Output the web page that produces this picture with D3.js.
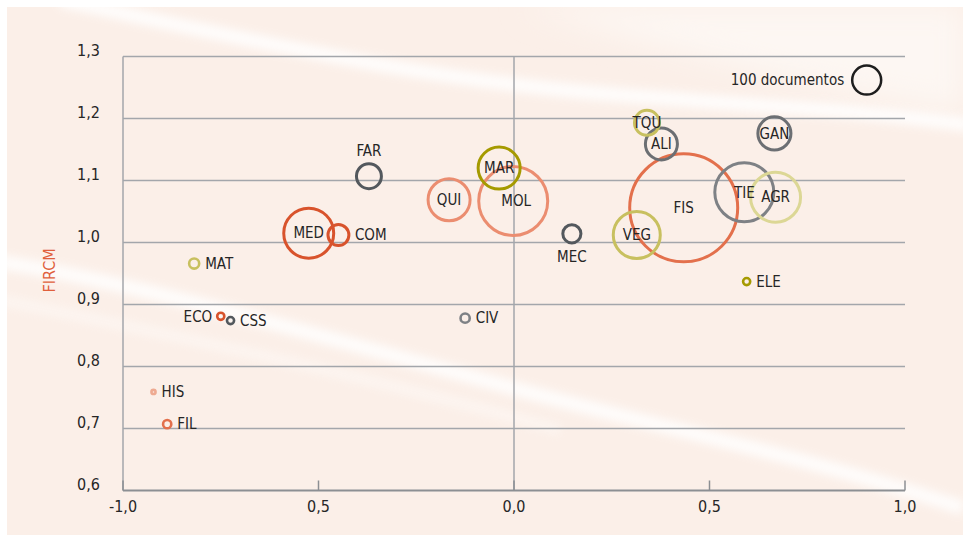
<!DOCTYPE html>
<meta charset="utf-8">
<style>
body { margin: 0; background: #fff; }
svg { display: block; font-family: "DejaVu Sans Condensed", "DejaVu Sans", sans-serif; }
.grid line { stroke: #a3a6ab; stroke-width: 1.5px; }
.lbl { font-size: 15px; fill: #262626; }
.tick { font-size: 16px; fill: #262626; }
</style>
<body>
<svg width="963" height="538"></svg>
<script src="https://cdn.jsdelivr.net/npm/d3@7"></script>
<script>

// data
var codes  = ["FIS","MOL","TIE","MED","AGR","VEG","MAR","QUI","GAN","ALI","FAR","TQU","COM","MEC","MAT","CIV","FIL","ELE","ECO","CSS","HIS"];
var xVals  = [0.434,-0.002,0.589,-0.525,0.669,0.314,-0.038,-0.166,0.666,0.377,-0.371,0.340,-0.449,0.148,-0.818,-0.125,-0.887,0.595,-0.750,-0.725,-0.922];
var yVals  = [1.056,1.067,1.081,1.015,1.073,1.012,1.120,1.069,1.176,1.159,1.107,1.193,1.012,1.014,0.966,0.878,0.707,0.937,0.881,0.874,0.759];
var docs   = [1387,566,414,297,297,263,210,210,130,122,74,74,52,39,12,10,8,6,6,6,2];
var groups = ["naranja","salmon","gris claro","rojo","crema","oliva claro","oliva","salmon","gris","gris","gris oscuro","oliva claro","rojo","gris oscuro","oliva claro","gris claro","naranja","oliva","rojo","gris oscuro","salmon claro"];
var labelPos = ["c","c","c","c","c","c","c","c","c","c","t","c","r","b","r","r","r","r","l","r","r"];

var groupNames  = ["gris oscuro","gris","gris claro","rojo","naranja","salmon","salmon claro","oliva","oliva claro","crema"];
var groupColors = ["#53585d","#6c6f73","#7e8185","#d8532c","#e3704c","#eb8d70","#eeaa91","#a59a00","#c8c05f","#dcd795"];

var yTicks = [0.6,0.7,0.8,0.9,1.0,1.1,1.2,1.3];
var xTicks = [-1,-0.5,0,0.5,1];
var xTickLabels = ["-1,0","0,5","0,0","0,5","1,0"];

var legendDocs = 100, legendText = "100 documentos", legendX = 0.902, legendY = 1.262;
var yTitle = "FIRCM";

var svg = d3.select("svg"),
    width = +svg.attr("width"),
    height = +svg.attr("height");

var x = d3.scaleLinear().domain([-1,1]).range([123,905]);
var y = d3.scaleLinear().domain([0.6,1.3]).range([490.5,56.5]);
var r = d3.scaleSqrt().domain([0,100]).range([0,14.5]);
var color = d3.scaleOrdinal().domain(groupNames).range(groupColors);

// background wash
var defs = svg.append("defs");
defs.append("filter").attr("id","blur").append("feGaussianBlur").attr("stdDeviation",5);
defs.append("filter").attr("id","blur2").append("feGaussianBlur").attr("stdDeviation",14);

svg.append("rect").attr("x",7).attr("y",7).attr("width",width-7).attr("height",height-10).attr("fill","#fbefe8");
var bg = svg.append("g").attr("clip-path","url(#clip)");
defs.append("clipPath").attr("id","clip").append("rect").attr("x",7).attr("y",7).attr("width",width-7).attr("height",height-10);
bg.append("path").attr("d","M520,7 C700,60 850,95 963,110 L963,7Z").attr("fill","#fdf7f3").attr("filter","url(#blur2)");
bg.append("path").attr("d","M60,0 C250,40 420,80 620,95 S850,110 970,125").attr("fill","none")
  .attr("stroke","#fff").attr("stroke-width",14).attr("opacity",0.85).attr("filter","url(#blur)");
bg.append("path").attr("d","M0,262 C150,285 350,345 520,390 S800,455 963,508").attr("fill","none")
  .attr("stroke","#fff").attr("stroke-width",14).attr("opacity",0.85).attr("filter","url(#blur)");
bg.append("path").attr("d","M0,300 C200,340 380,380 560,430").attr("fill","none")
  .attr("stroke","#fff").attr("stroke-width",10).attr("opacity",0.4).attr("filter","url(#blur)");

// grid
var grid = svg.append("g").attr("class","grid");
grid.selectAll(".h").data(yTicks.slice(1)).enter().append("line")
  .attr("x1",x(-1)).attr("x2",x(1)).attr("y1",d=>y(d)).attr("y2",d=>y(d));
grid.append("line").attr("x1",x(-1)).attr("x2",x(-1)).attr("y1",y(1.3)).attr("y2",y(0.6));
grid.append("line").attr("x1",x(0)).attr("x2",x(0)).attr("y1",y(1.3)).attr("y2",y(0.6));

// x axis, ticks pointing up
var xAxis = svg.append("g");
xAxis.append("line").attr("x1",x(-1)).attr("x2",x(1)).attr("y1",y(0.6)).attr("y2",y(0.6))
  .attr("stroke","#8c8f93").attr("stroke-width",2);
xAxis.selectAll(".tk").data(xTicks).enter().append("line")
  .attr("x1",d=>x(d)).attr("x2",d=>x(d)).attr("y1",y(0.6)).attr("y2",y(0.6)-10)
  .attr("stroke","#8c8f93").attr("stroke-width",1.5);
xAxis.selectAll("text").data(xTicks).enter().append("text")
  .attr("class","tick").attr("x",d=>x(d)).attr("y",y(0.6)+21)
  .attr("text-anchor","middle").text((d,i)=>xTickLabels[i]);

// y labels
svg.append("g").selectAll("text").data(yTicks).enter().append("text")
  .attr("class","tick").attr("x",100).attr("y",d=>y(d)-0.5)
  .attr("text-anchor","end").text(d=>d3.format(".1f")(d).replace(".",","));

svg.append("text").attr("transform","translate(55,"+y(0.955)+") rotate(-90)")
  .attr("text-anchor","middle").attr("font-size",16).attr("fill","#e0603c").text(yTitle);

// bubbles
var pts = codes.map((c,i)=>({code:c,x:xVals[i],y:yVals[i],n:docs[i],g:groups[i],p:labelPos[i]}));

svg.append("g").selectAll("circle").data(pts).enter().append("circle")
  .attr("cx",d=>x(d.x)).attr("cy",d=>y(d.y)).attr("r",d=>r(d.n))
  .attr("fill","none").attr("stroke",d=>color(d.g))
  .attr("stroke-width",d=>r(d.n)>8?3:2.6);

svg.append("g").selectAll("text").data(pts).enter().append("text")
  .attr("class","lbl")
  .attr("x",d=>{
    var rr=r(d.n);
    if(d.p=="r") return x(d.x)+rr+6;
    if(d.p=="l") return x(d.x)-rr-5;
    return x(d.x)+(d.code=="MOL"?3:0);
  })
  .attr("y",d=>{
    var rr=r(d.n);
    if(d.p=="t") return y(d.y)-rr-13;
    if(d.p=="b") return y(d.y)+rr+14;
    return y(d.y);
  })
  .attr("dy","0.35em")
  .attr("text-anchor",d=>d.p=="r"?"start":d.p=="l"?"end":"middle")
  .text(d=>d.code);

// legend
svg.append("circle").attr("cx",x(legendX)).attr("cy",y(legendY)).attr("r",r(legendDocs))
  .attr("fill","none").attr("stroke","#1e1e1e").attr("stroke-width",2.5);
svg.append("text").attr("class","lbl").attr("x",x(legendX)-r(legendDocs)-8).attr("y",y(legendY))
  .attr("dy","0.35em").attr("text-anchor","end").text(legendText);

</script>
</body>
